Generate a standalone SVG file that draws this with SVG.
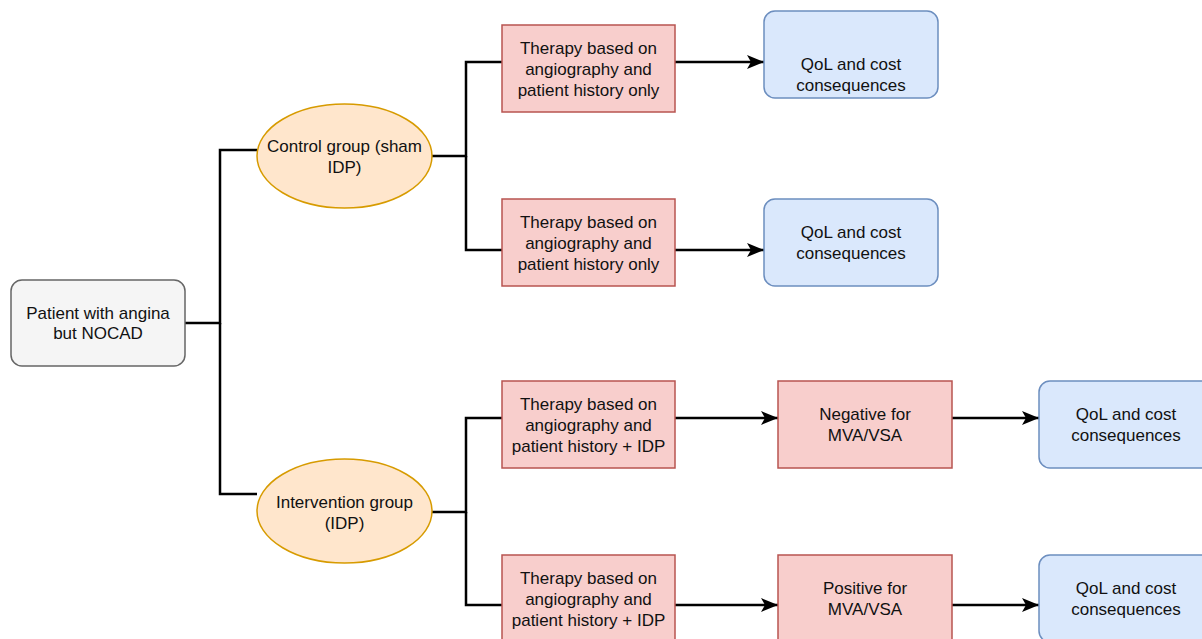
<svg xmlns="http://www.w3.org/2000/svg" width="1202" height="639" viewBox="0 0 1202 639">
<style>
text{font-family:"Liberation Sans",Arial,sans-serif;font-size:17px;fill:#111;text-anchor:middle}
.red{fill:#f8cecc;stroke:#b85450;stroke-width:1.5}
.blue{fill:#dae8fc;stroke:#6c8ebf;stroke-width:1.5}
.grey{fill:#f5f5f5;stroke:#666;stroke-width:1.5}
.oval{fill:#ffe6cc;stroke:#d79b00;stroke-width:1.5}
.ln{fill:none;stroke:#000;stroke-width:2.5}
.ar{fill:none;stroke:#000;stroke-width:2.5;marker-end:url(#ah)}
</style>
<defs>
<marker id="ah" markerUnits="userSpaceOnUse" markerWidth="18" markerHeight="14" refX="17" refY="7" orient="auto">
<path d="M0,0 L17,7 L0,14 L4,7 z" fill="#000"/>
</marker>
</defs>
<rect width="1202" height="639" fill="#fff"/>
<g id="connectors">
<path class="ln" d="M185,323 H220 V150 H257"/>
<path class="ln" d="M220,323 V494 H257"/>
<path class="ln" d="M432,156 H466 V62 H502"/>
<path class="ln" d="M466,156 V250 H502"/>
<path class="ln" d="M432,512 H466 V418 H502"/>
<path class="ln" d="M466,512 V605 H502"/>
<path class="ar" d="M675,62 H764"/>
<path class="ar" d="M675,250 H764"/>
<path class="ar" d="M675,418 H778"/>
<path class="ar" d="M952,418 H1039"/>
<path class="ar" d="M675,605 H778"/>
<path class="ar" d="M952,605 H1039"/>
</g>
<g id="patient">
<rect class="grey" x="11" y="280" width="174" height="86" rx="11"/>
<text x="98" y="319">Patient with angina</text>
<text x="98" y="339">but NOCAD</text>
</g>
<g id="control">
<ellipse class="oval" cx="344.5" cy="156" rx="87.5" ry="52"/>
<text x="344.5" y="152">Control group (sham</text>
<text x="344.5" y="173">IDP)</text>
</g>
<g id="intervention">
<ellipse class="oval" cx="344.5" cy="511" rx="87.5" ry="52"/>
<text x="344.5" y="508">Intervention group</text>
<text x="344.5" y="529">(IDP)</text>
</g>
<g id="therapy1">
<rect class="red" x="502" y="25" width="173" height="87"/>
<text x="588.5" y="54">Therapy based on</text>
<text x="588.5" y="75">angiography and</text>
<text x="588.5" y="96">patient history only</text>
</g>
<g id="therapy2">
<rect class="red" x="502" y="199" width="173" height="87"/>
<text x="588.5" y="228">Therapy based on</text>
<text x="588.5" y="249">angiography and</text>
<text x="588.5" y="270">patient history only</text>
</g>
<g id="therapy3">
<rect class="red" x="502" y="381" width="173" height="87"/>
<text x="588.5" y="410">Therapy based on</text>
<text x="588.5" y="431">angiography and</text>
<text x="588.5" y="452">patient history + IDP</text>
</g>
<g id="therapy4">
<rect class="red" x="502" y="555" width="173" height="87"/>
<text x="588.5" y="584">Therapy based on</text>
<text x="588.5" y="605">angiography and</text>
<text x="588.5" y="626">patient history + IDP</text>
</g>
<g id="qol1">
<rect class="blue" x="764" y="11" width="174" height="87" rx="11"/>
<text x="851" y="70">QoL and cost</text>
<text x="851" y="91">consequences</text>
</g>
<g id="qol2">
<rect class="blue" x="764" y="199" width="174" height="87" rx="11"/>
<text x="851" y="238">QoL and cost</text>
<text x="851" y="259">consequences</text>
</g>
<g id="negative">
<rect class="red" x="778" y="381" width="174" height="87"/>
<text x="865" y="420">Negative for</text>
<text x="865" y="441">MVA/VSA</text>
</g>
<g id="qol3">
<rect class="blue" x="1039" y="381" width="174" height="87" rx="11"/>
<text x="1126" y="420">QoL and cost</text>
<text x="1126" y="441">consequences</text>
</g>
<g id="positive">
<rect class="red" x="778" y="555" width="174" height="87"/>
<text x="865" y="594">Positive for</text>
<text x="865" y="615">MVA/VSA</text>
</g>
<g id="qol4">
<rect class="blue" x="1039" y="555" width="174" height="87" rx="11"/>
<text x="1126" y="594">QoL and cost</text>
<text x="1126" y="615">consequences</text>
</g>
</svg>
